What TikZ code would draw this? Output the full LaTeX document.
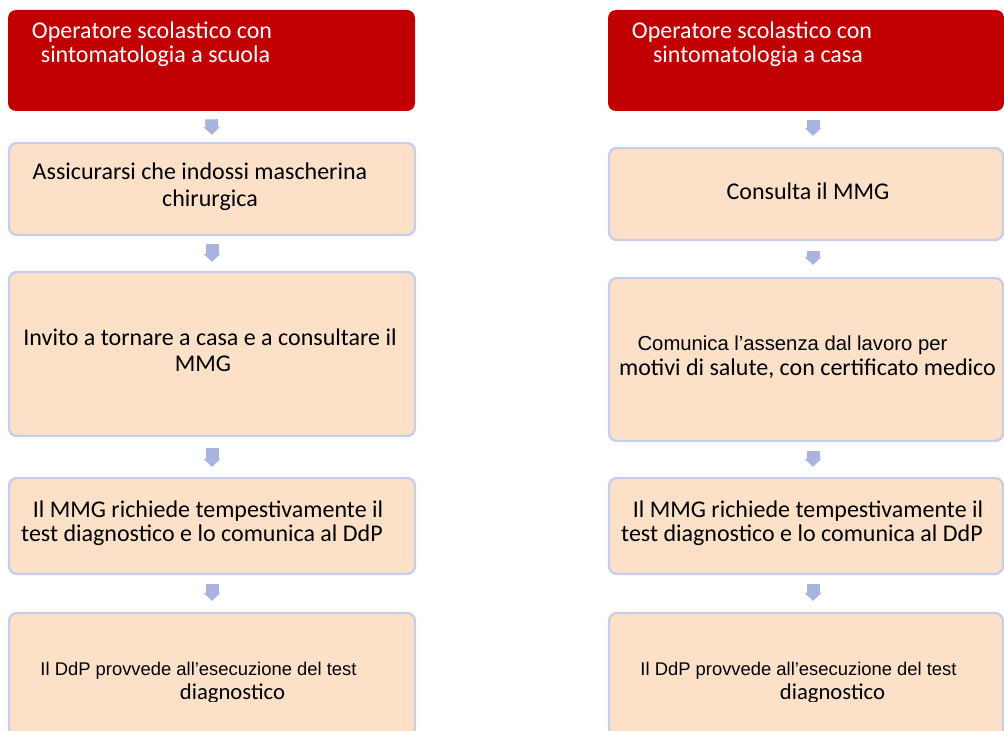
\documentclass[tikz,border=0pt]{standalone}
\usepackage{fontspec}
\setmainfont{Carlito}
\newfontfamily\narrowfont{Liberation Sans}
\usetikzlibrary{arrows.meta}

\definecolor{headred}{RGB}{192,0,0}
\definecolor{peach}{RGB}{252,224,200}
\definecolor{frameblue}{RGB}{199,206,233}
\definecolor{arrowblue}{RGB}{168,180,221}

\begin{document}
\begin{tikzpicture}[x=0.75pt, y=-0.75pt,
    head/.style={rectangle, rounded corners=6pt, fill=headred, inner sep=0pt},
    stepbox/.style={rectangle, rounded corners=6pt, fill=peach, draw=frameblue, line width=1.8pt, inner sep=0pt},
    txt/.style={anchor=base, inner sep=0pt, font=\fontsize{18pt}{18pt}\selectfont},
    flow/.style={draw=arrowblue, line width=9.75pt, -{Triangle[width=12.75pt, length=6pt, line width=0pt]}}]
    \useasboundingbox (0,0) rectangle (1004,731);
    \clip (0,0) rectangle (1004,731);

    % left column
    \node (l1) at (211.5, 60.5) [head, minimum width=305.25pt, minimum height=75.75pt] {};
    \node (l2) at (212, 189) [stepbox, minimum width=304.5pt, minimum height=69pt] {};
    \node (l3) at (212, 354) [stepbox, minimum width=304.5pt, minimum height=123pt] {};
    \node (l4) at (212, 526) [stepbox, minimum width=304.5pt, minimum height=72pt] {};
    \node (l5) at (212, 683) [stepbox, minimum width=304.5pt, minimum height=105pt] {};

    % right column
    \node (r1) at (806, 60.5) [head, minimum width=297pt, minimum height=75.75pt] {};
    \node (r2) at (806, 194) [stepbox, minimum width=295.5pt, minimum height=69pt] {};
    \node (r3) at (806, 359.5) [stepbox, minimum width=295.5pt, minimum height=122.25pt] {};
    \node (r4) at (806, 526) [stepbox, minimum width=295.5pt, minimum height=72pt] {};
    \node (r5) at (806, 683) [stepbox, minimum width=295.5pt, minimum height=105pt] {};

    \draw[flow, shorten <=6pt, shorten >=5.25pt] (l1) -- (l2);
    \draw[flow, shorten <=6pt, shorten >=6.75pt] (l2) -- (l3);
    \draw[flow, shorten <=8.25pt, shorten >=7.5pt] (l3) -- (l4);
    \draw[flow, shorten <=6.75pt, shorten >=8.25pt] (l4) -- (l5);
    \draw[flow, shorten <=6.75pt, shorten >=8.25pt] ([xshift=5.25pt]r1.south) -- ([xshift=5.25pt]r2.north);
    \draw[flow, shorten <=7.5pt, shorten >=9pt] ([xshift=5.25pt]r2.south) -- ([xshift=5.25pt]r3.north);
    \draw[flow, shorten <=6.75pt, shorten >=7.5pt] ([xshift=5.25pt]r3.south) -- ([xshift=5.25pt]r4.north);
    \draw[flow, shorten <=6.75pt, shorten >=8.25pt] ([xshift=5.25pt]r4.south) -- ([xshift=5.25pt]r5.north);

    % texts
    \node (l1a) at (152, 39) [txt, text=white] {Operatore scolastico con};
    \node (l1b) at (155.5, 63) [txt, text=white] {sintomatologia a scuola};
    \node (r1a) at (752, 39) [txt, text=white] {Operatore scolastico con};
    \node (r1b) at (758, 63) [txt, text=white] {sintomatologia a casa};

    \node (l2a) at (200, 180) [txt] {Assicurarsi che indossi mascherina};
    \node (l2b) at (210, 207) [txt] {chirurgica};
    \node (r2a) at (808, 200) [txt] {Consulta il MMG};

    \node (l3a) at (210, 345) [txt] {Invito a tornare a casa e a consultare il};
    \node (l3b) at (203, 371.7) [txt] {MMG};
    \node (r3a) at (792.5, 350) [txt, font=\narrowfont\fontsize{15.2pt}{15.2pt}\selectfont] {Comunica l’assenza dal lavoro per};
    \node (r3b) at (807.5, 375) [txt] {motivi di salute, con certificato medico};

    \node (l4a) at (208, 517) [txt] {Il MMG richiede tempestivamente il};
    \node (l4b) at (202, 541.7) [txt] {test diagnostico e lo comunica al DdP};
    \node (r4a) at (808, 517) [txt] {Il MMG richiede tempestivamente il};
    \node (r4b) at (802, 541.7) [txt] {test diagnostico e lo comunica al DdP};

    \node (l5a) at (198.5, 675) [txt, font=\narrowfont\fontsize{13.8pt}{13.8pt}\selectfont] {Il DdP provvede all’esecuzione del test};
    \node (r5a) at (798.5, 675) [txt, font=\narrowfont\fontsize{13.8pt}{13.8pt}\selectfont] {Il DdP provvede all’esecuzione del test};
    \begin{scope}
        \clip (0,0) rectangle (1004,701.5);
        \node (l5b) at (232.5, 699.3) [txt, font=\fontsize{17pt}{17pt}\selectfont] {diagnostico};
        \node (r5b) at (832.5, 699.3) [txt, font=\fontsize{17pt}{17pt}\selectfont] {diagnostico};
    \end{scope}
\end{tikzpicture}
\end{document}
